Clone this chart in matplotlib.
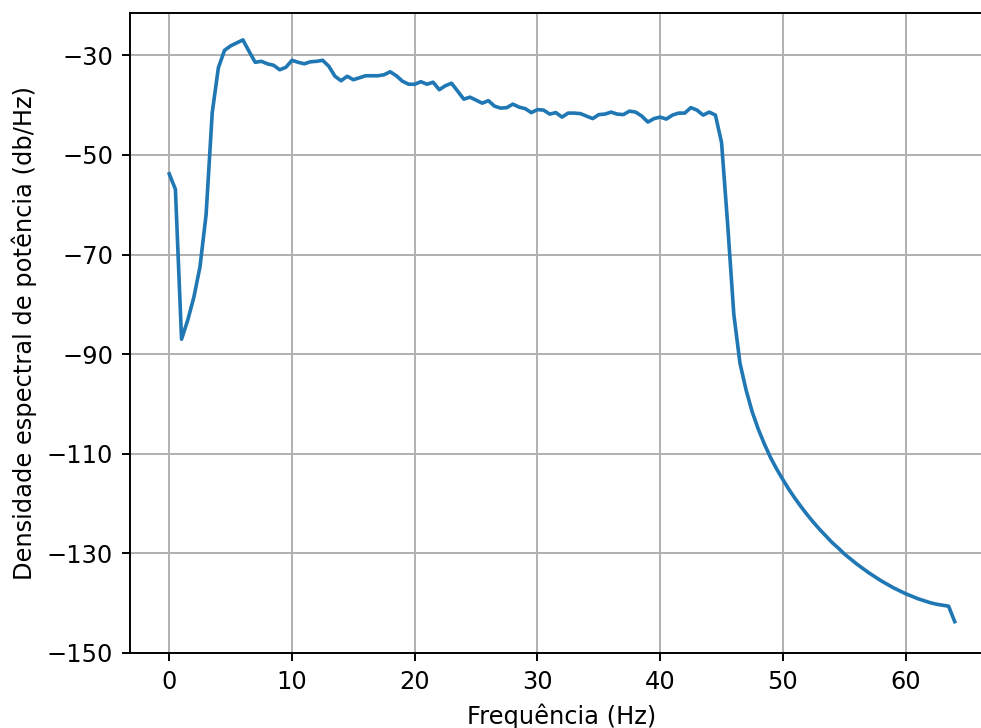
import numpy as np
import matplotlib
matplotlib.use('Agg')
import matplotlib.pyplot as plt

# Welch PSD, 0.5 Hz resolution from 0 to 64 Hz
freqs = np.arange(0, 64.5, 0.5)

psd_db = [
    -53.8, -56.9, -87.0, -83.2, -78.6, -72.5, -62.0, -41.5, -32.5, -29.0,
    -28.1, -27.5, -26.9, -29.2, -31.4, -31.2, -31.7, -32.0, -32.9, -32.4,
    -31.0, -31.4, -31.7, -31.3, -31.2, -31.0, -32.2, -34.2, -35.1, -34.2,
    -34.9, -34.5, -34.1, -34.1, -34.1, -33.9, -33.3, -34.1, -35.2, -35.8,
    -35.8, -35.3, -35.8, -35.4, -36.9, -36.1, -35.6, -37.2, -38.8, -38.4,
    -39.0, -39.6, -39.1, -40.2, -40.6, -40.5, -39.8, -40.4, -40.7, -41.5,
    -40.9, -41.0, -41.8, -41.5, -42.4, -41.6, -41.6, -41.7, -42.2, -42.7,
    -41.9, -41.8, -41.4, -41.8, -41.9, -41.2, -41.4, -42.2, -43.4, -42.7,
    -42.4, -42.8, -42.0, -41.6, -41.6, -40.5, -41.0, -42.0, -41.4, -42.0,
    -47.5, -64.0, -82.0,
    -91.8, -97.2, -101.6, -105.1, -108.1, -110.8, -113.1, -115.2, -117.2,
    -119.0, -120.7, -122.3, -123.8, -125.2, -126.5, -127.8, -128.9, -130.1,
    -131.1, -132.1, -133.0, -133.9, -134.7, -135.5, -136.2, -136.9, -137.5,
    -138.1, -138.6, -139.1, -139.5, -139.9, -140.2, -140.4, -140.6, -143.7,
]

y_ticks = [-30, -50, -70, -90, -110, -130, -150]
x_ticks = [0, 10, 20, 30, 40, 50, 60]

dpi = 174
fig = plt.figure(figsize=(981 / dpi, 728 / dpi), dpi=dpi)
ax = fig.add_axes([130 / 981, 75 / 728, 864 / 981, 640 / 728])

ax.plot(freqs, psd_db, color='C0')
ax.set_xticks(x_ticks)
ax.set_yticks(y_ticks)
ax.set_ylim(-150, -21.5)
ax.set_xlabel("Frequência (Hz)")
ax.set_ylabel("Densidade espectral de potência (db/Hz)")
ax.grid(True)

fig.savefig("out.png", dpi=dpi)
plt.close(fig)
